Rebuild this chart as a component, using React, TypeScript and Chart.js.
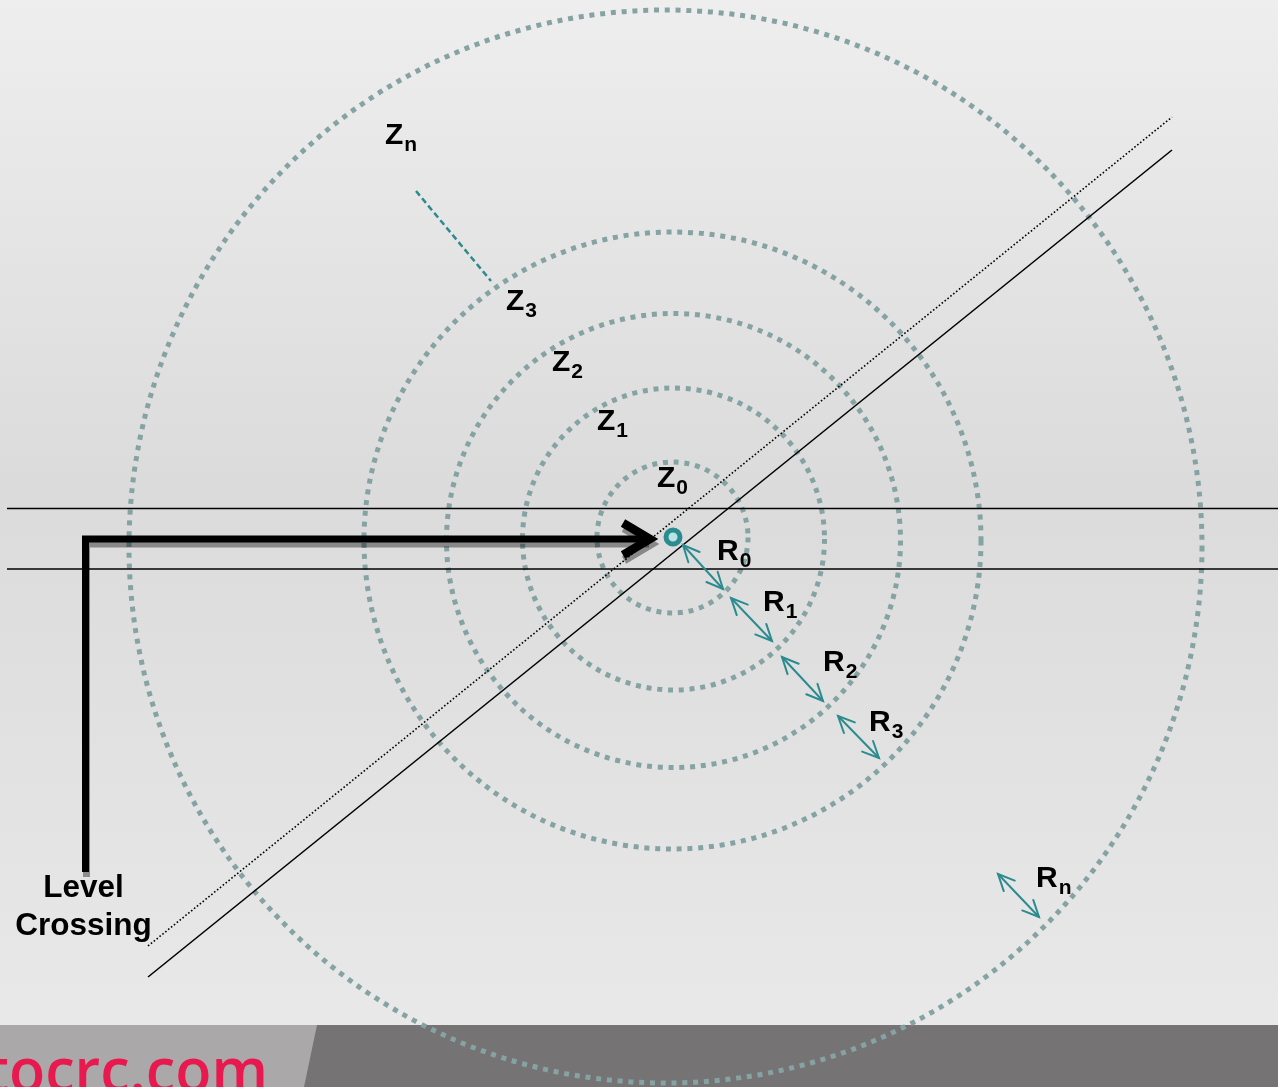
import { useEffect, useRef } from 'react';
import { Chart, registerables } from 'chart.js';

Chart.register(...registerables);

const WIDTH = 1278;
const HEIGHT = 1087;

// Detection zones (concentric dotted rings)
const zoneNames = ['Z0', 'Z1', 'Z2', 'Z3', 'Zn'];
const zoneCentreX = [672.5, 673.5, 673.5, 672.5, 665.5];
const zoneCentreY = [537.5, 539, 540.5, 540.5, 546.5];
const zoneRadius = [75.5, 151, 227, 308.5, 536.5];
const zoneLabelX = [657, 597, 552, 506, 385];
const zoneLabelY = [487, 430, 371, 310, 144];

// Range arrows between rings
const rangeNames = ['R0', 'R1', 'R2', 'R3', 'Rn'];
const rangeFromX = [683, 731, 782, 838, 998];
const rangeFromY = [545, 598, 657, 716, 874];
const rangeToX = [723, 772, 823, 879, 1039];
const rangeToY = [589, 641, 701, 758, 917];
const rangeLabelX = [717, 763, 823, 869, 1036];
const rangeLabelY = [560, 611, 671, 731, 887];

// Railway tracks
const trackY = [508.5, 569];
const trackStartX = 7;
const trackEndX = 1278;

// Road (solid edge and dotted centre)
const roadSolidX = [148, 1172];
const roadSolidY = [977, 150];
const roadDottedX = [148, 1172];
const roadDottedY = [946, 117];

// Level crossing approach arrow
const approachX = [85.5, 85.5, 648];
const approachY = [872, 539, 539];
const approachHeadX = [623, 650, 623];
const approachHeadY = [523, 539, 555];

// Leader to outer zone
const leaderX = [416, 491];
const leaderY = [191, 281];

// Detector
const detectorX = [673];
const detectorY = [537];

const levelCrossingLines = ['Level', 'Crossing'];
const levelCrossingX = 83.5;
const levelCrossingY = [897, 935];

const footerText = 'www.autocrc.com';
const footerVisible = 'ocrc.com';

const pts = (xs: number[], ys: number[]) => xs.map((x, i) => ({ x, y: ys[i] }));

const TEAL = '#2c8b8f';
const RING = '#86a3a4';
const LABEL_FONT = 'bold 30px "Liberation Sans", Arial, sans-serif';
const SUB_FONT = 'bold 21px "Liberation Sans", Arial, sans-serif';

const diagramPlugin = {
  id: 'diagram',
  beforeDraw(chart: any) {
    const { ctx } = chart;
    const xs = chart.scales.x;
    const ys = chart.scales.y;
    ctx.save();
    const g = ctx.createLinearGradient(0, 0, 0, HEIGHT);
    g.addColorStop(0, '#eeeeee');
    g.addColorStop(0.45, '#dbdbdb');
    g.addColorStop(1, '#eaeaea');
    ctx.fillStyle = g;
    ctx.fillRect(0, 0, chart.width, chart.height);

    // footer band
    const bandTop = ys.getPixelForValue(1025);
    const bandBot = ys.getPixelForValue(1087);
    ctx.fillStyle = '#767374';
    ctx.fillRect(0, bandTop, chart.width, bandBot - bandTop);
    ctx.fillStyle = '#aaa8a9';
    ctx.beginPath();
    ctx.moveTo(0, bandTop);
    ctx.lineTo(xs.getPixelForValue(317), bandTop);
    ctx.lineTo(xs.getPixelForValue(304), bandBot);
    ctx.lineTo(0, bandBot);
    ctx.closePath();
    ctx.fill();
    ctx.fillStyle = '#e8194f';
    ctx.font = '600 62px "Open Sans", "Noto Sans", sans-serif';
    ctx.textAlign = 'right';
    ctx.textBaseline = 'alphabetic';
    const target = xs.getPixelForValue(268) - xs.getPixelForValue(9);
    const sx = target / ctx.measureText(footerVisible).width;
    ctx.translate(xs.getPixelForValue(268), ys.getPixelForValue(1092));
    ctx.scale(sx, 1);
    ctx.fillText(footerText, 0, 0);
    ctx.restore();
  },
  beforeDatasetsDraw(chart: any) {
    const { ctx } = chart;
    const xs = chart.scales.x;
    const ys = chart.scales.y;
    ctx.save();
    ctx.strokeStyle = RING;
    ctx.lineWidth = 5;
    ctx.lineCap = 'butt';
    ctx.setLineDash([5, 5.8]);
    zoneRadius.forEach((r, i) => {
      const cx = xs.getPixelForValue(zoneCentreX[i]);
      const cy = ys.getPixelForValue(zoneCentreY[i]);
      const rp = Math.abs(xs.getPixelForValue(zoneCentreX[i] + r) - cx);
      ctx.beginPath();
      ctx.arc(cx, cy, rp, 0, Math.PI * 2);
      ctx.stroke();
    });
    ctx.restore();
  },
  beforeDatasetDraw(chart: any, args: any) {
    const ds = chart.data.datasets[args.index];
    if (ds.shadow) {
      const { ctx } = chart;
      ctx.save();
      ctx.shadowColor = 'rgba(0,0,0,0.38)';
      ctx.shadowOffsetX = 1;
      ctx.shadowOffsetY = 5;
      ctx.shadowBlur = 0;
    }
  },
  afterDatasetDraw(chart: any, args: any) {
    const ds = chart.data.datasets[args.index];
    if (ds.shadow) chart.ctx.restore();
    if (ds.doubleHead) {
      const { ctx } = chart;
      const els = args.meta.data;
      const a = els[0];
      const b = els[els.length - 1];
      const head = (tx: number, ty: number, fx: number, fy: number) => {
        const ang = Math.atan2(ty - fy, tx - fx);
        const len = 18;
        const spread = (25 * Math.PI) / 180;
        ctx.beginPath();
        ctx.moveTo(tx - len * Math.cos(ang - spread), ty - len * Math.sin(ang - spread));
        ctx.lineTo(tx, ty);
        ctx.lineTo(tx - len * Math.cos(ang + spread), ty - len * Math.sin(ang + spread));
        ctx.stroke();
      };
      ctx.save();
      ctx.strokeStyle = TEAL;
      ctx.lineWidth = 2;
      ctx.lineCap = 'round';
      ctx.lineJoin = 'miter';
      head(a.x, a.y, b.x, b.y);
      head(b.x, b.y, a.x, a.y);
      ctx.restore();
    }
  },
  afterDatasetsDraw(chart: any) {
    const { ctx } = chart;
    const xs = chart.scales.x;
    const ys = chart.scales.y;
    ctx.save();
    ctx.fillStyle = '#000000';
    ctx.textBaseline = 'alphabetic';
    ctx.textAlign = 'left';
    const sublabel = (name: string, x: number, y: number) => {
      const base = name.slice(0, 1);
      const sub = name.slice(1);
      const px = xs.getPixelForValue(x);
      const py = ys.getPixelForValue(y);
      ctx.font = LABEL_FONT;
      ctx.fillText(base, px, py);
      const w = ctx.measureText(base).width;
      ctx.font = SUB_FONT;
      ctx.fillText(sub, px + w + 1, py + 7);
    };
    zoneNames.forEach((n, i) => sublabel(n, zoneLabelX[i], zoneLabelY[i]));
    rangeNames.forEach((n, i) => sublabel(n, rangeLabelX[i], rangeLabelY[i]));
    ctx.font = 'bold 31.5px "Liberation Sans", Arial, sans-serif';
    ctx.textAlign = 'center';
    levelCrossingLines.forEach((t, i) => {
      ctx.fillText(t, xs.getPixelForValue(levelCrossingX), ys.getPixelForValue(levelCrossingY[i]));
    });
    ctx.restore();
  },
};

const lineDs = (data: any[], extra: any) => ({
  type: 'scatter',
  data,
  showLine: true,
  pointRadius: 0,
  pointHoverRadius: 0,
  fill: false,
  tension: 0,
  ...extra,
});

export default function App() {
  const canvasRef = useRef<HTMLCanvasElement | null>(null);

  useEffect(() => {
    document.body.style.margin = '0';
    document.body.style.overflow = 'hidden';
    const canvas = canvasRef.current;
    if (!canvas) return;

    const datasets: any[] = [
      {
        type: 'scatter',
        data: pts(detectorX, detectorY),
        pointRadius: 7,
        pointHoverRadius: 7,
        pointBorderWidth: 5,
        pointBackgroundColor: '#bce3e3',
        pointBorderColor: TEAL,
        order: 0,
      },
      lineDs(pts(approachHeadX, approachHeadY), {
        borderColor: '#000000',
        borderWidth: 8.5,
        borderJoinStyle: 'miter',
        borderCapStyle: 'butt',
        shadow: true,
        order: 1,
      }),
      lineDs(pts(approachX, approachY), {
        borderColor: '#000000',
        borderWidth: 7,
        borderJoinStyle: 'miter',
        borderCapStyle: 'butt',
        shadow: true,
        order: 2,
      }),
      ...rangeNames.map((_, i) =>
        lineDs(pts([rangeFromX[i], rangeToX[i]], [rangeFromY[i], rangeToY[i]]), {
          borderColor: TEAL,
          borderWidth: 2,
          borderCapStyle: 'round',
          doubleHead: true,
          order: 3,
        })
      ),
      lineDs(pts(leaderX, leaderY), {
        borderColor: TEAL,
        borderWidth: 2.5,
        borderDash: [6, 3.5],
        order: 4,
      }),
      lineDs(pts(roadSolidX, roadSolidY), {
        borderColor: '#000000',
        borderWidth: 1.6,
        order: 5,
      }),
      lineDs(pts(roadDottedX, roadDottedY), {
        borderColor: '#000000',
        borderWidth: 1.6,
        borderDash: [1.6, 2.1],
        order: 6,
      }),
      ...trackY.map((y) =>
        lineDs(pts([trackStartX, trackEndX], [y, y]), {
          borderColor: '#000000',
          borderWidth: 1.6,
          order: 7,
        })
      ),
    ];

    const chart = new Chart(canvas, {
      type: 'scatter',
      data: { datasets },
      options: {
        animation: false,
        responsive: false,
        maintainAspectRatio: false,
        devicePixelRatio: 1,
        layout: { padding: 0, autoPadding: false },
        events: [],
        plugins: {
          legend: { display: false },
          tooltip: { enabled: false },
        },
        scales: {
          x: { type: 'linear', min: 0, max: WIDTH, display: false },
          y: { type: 'linear', min: 0, max: HEIGHT, reverse: true, display: false },
        },
      },
      plugins: [diagramPlugin],
    } as any);

    return () => chart.destroy();
  }, []);

  return (
    <div style={{ width: WIDTH, height: HEIGHT }}>
      <canvas ref={canvasRef} width={WIDTH} height={HEIGHT} style={{ display: 'block', width: WIDTH, height: HEIGHT }} />
    </div>
  );
}
